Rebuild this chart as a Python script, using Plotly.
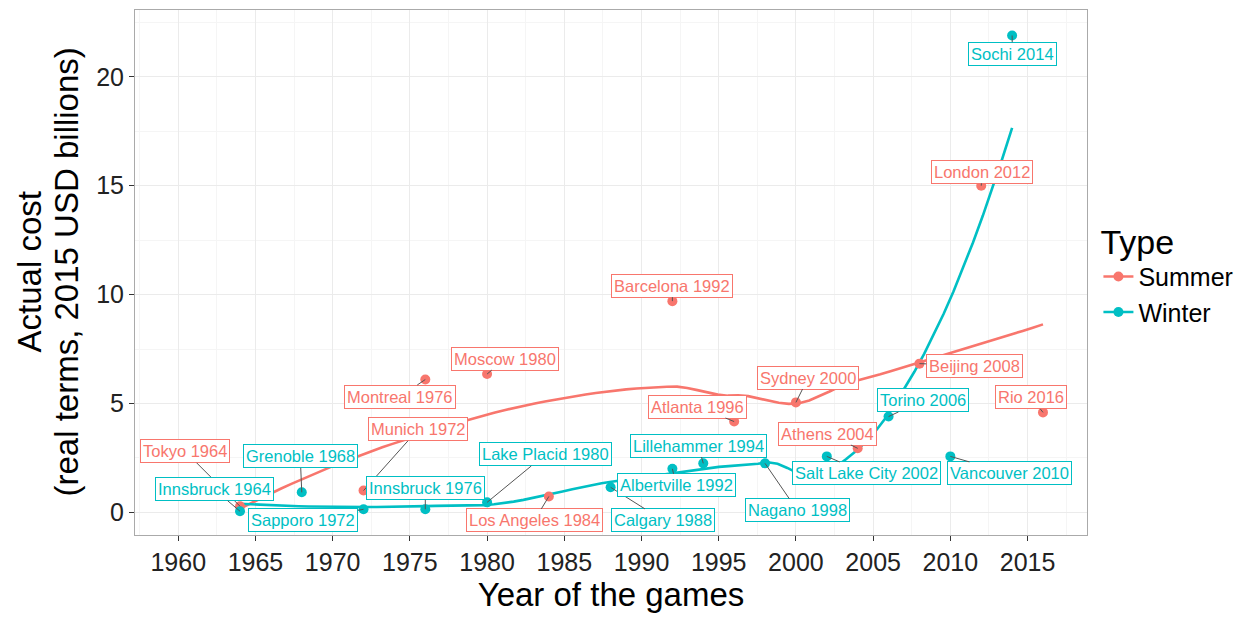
import numpy as np
import plotly.graph_objects as go

# ---------------- data ----------------
summer_games = ["Tokyo 1964", "Munich 1972", "Montreal 1976", "Moscow 1980",
                "Los Angeles 1984", "Barcelona 1992", "Atlanta 1996", "Sydney 2000",
                "Athens 2004", "Beijing 2008", "London 2012", "Rio 2016"]
summer_years = [1964, 1972, 1976, 1980, 1984, 1992, 1996, 2000, 2004, 2008, 2012, 2016]
summer_cost = [0.28, 1.0, 6.1, 6.35, 0.73, 9.7, 4.17, 5.05, 2.94, 6.83, 15.0, 4.59]

winter_games = ["Innsbruck 1964", "Grenoble 1968", "Sapporo 1972", "Innsbruck 1976",
                "Lake Placid 1980", "Calgary 1988", "Albertville 1992", "Lillehammer 1994",
                "Nagano 1998", "Salt Lake City 2002", "Torino 2006", "Vancouver 2010",
                "Sochi 2014"]
winter_years = [1964, 1968, 1972, 1976, 1980, 1988, 1992, 1994, 1998, 2002, 2006, 2010, 2014]
winter_cost = [0.05, 0.92, 0.14, 0.14, 0.46, 1.15, 2.0, 2.25, 2.25, 2.57, 4.4, 2.57, 21.9]

x_ticks = [1960, 1965, 1970, 1975, 1980, 1985, 1990, 1995, 2000, 2005, 2010, 2015]
y_ticks = [0, 5, 10, 15, 20]

y_title_lines = ["Actual cost", "(real terms, 2015 USD billions)"]
x_title = "Year of the games"

# label box centres (layout, data coordinates)
label_pos = {
    "Tokyo 1964": (1960.45, 2.80), "Munich 1972": (1975.54, 3.81),
    "Montreal 1976": (1974.38, 5.32), "Moscow 1980": (1981.18, 7.06),
    "Los Angeles 1984": (1983.06, -0.37), "Barcelona 1992": (1992.0, 10.41),
    "Atlanta 1996": (1993.61, 4.86), "Sydney 2000": (2000.8, 6.19),
    "Athens 2004": (2002.03, 3.62), "Beijing 2008": (2011.55, 6.74),
    "London 2012": (2012.07, 15.64), "Rio 2016": (2015.25, 5.28),
    "Innsbruck 1964": (1962.33, 1.06), "Grenoble 1968": (1967.9, 2.57),
    "Sapporo 1972": (1968.1, -0.37), "Innsbruck 1976": (1976.0, 1.10),
    "Lake Placid 1980": (1983.77, 2.66), "Calgary 1988": (1991.41, -0.37),
    "Albertville 1992": (1992.25, 1.24), "Lillehammer 1994": (1993.68, 3.07),
    "Nagano 1998": (2000.09, 0.09), "Salt Lake City 2002": (2004.56, 1.79),
    "Torino 2006": (2008.25, 5.14), "Vancouver 2010": (2013.82, 1.79),
    "Sochi 2014": (2014.02, 21.06),
}

RED = "#F8766D"
TEAL = "#00BFC4"
FONT = "Liberation Sans, Arial, sans-serif"


# ---------- loess smoother (as geom_smooth: span .75, degree 2, kd-tree interpolation) ----------
def _local_fit(x, y, x0, q):
    d = np.abs(x - x0)
    h = np.sort(d)[q - 1]
    u = np.clip(d / h, 0, 1)
    w = (1 - u ** 3) ** 3
    X = np.vstack([np.ones(len(x)), x - x0, (x - x0) ** 2]).T
    sw = np.sqrt(w)
    beta = np.linalg.lstsq(X * sw[:, None], y * sw, rcond=None)[0]
    return beta[0], beta[1]


def loess(x, y, xs, span=0.75, cell=0.2):
    order = np.argsort(x)
    x = np.asarray(x, float)[order]
    y = np.asarray(y, float)[order]
    n = len(x)
    q = int(np.floor(n * span + 1e-5))
    fc = int(np.floor(n * span * cell))
    lo, hi = x.min(), x.max()
    mu = 0.005 * (hi - lo)
    verts = [lo - mu, hi + mu]

    def rec(l, u, vlo, vhi):
        if u - l + 1 <= fc:
            return
        m = (l + u) // 2
        s = x[m - 1]
        if s == vlo or s == vhi:
            return
        verts.append(s)
        rec(l, m, vlo, s)
        rec(m + 1, u, s, vhi)

    rec(1, n, verts[0], verts[1])
    verts = np.array(sorted(set(verts)))
    vals = np.array([_local_fit(x, y, v, q) for v in verts])
    out = []
    for t in xs:
        i = min(max(np.searchsorted(verts, t) - 1, 0), len(verts) - 2)
        x0, x1 = verts[i], verts[i + 1]
        hgt = x1 - x0
        s = (t - x0) / hgt
        h00 = 2 * s ** 3 - 3 * s ** 2 + 1
        h10 = s ** 3 - 2 * s ** 2 + s
        h01 = -2 * s ** 3 + 3 * s ** 2
        h11 = s ** 3 - s ** 2
        out.append(h00 * vals[i, 0] + h10 * hgt * vals[i, 1]
                   + h01 * vals[i + 1, 0] + h11 * hgt * vals[i + 1, 1])
    return np.array(out)


fig = go.Figure()

series = [("Summer", summer_games, summer_years, summer_cost, RED),
          ("Winter", winter_games, winter_years, winter_cost, TEAL)]

for name, games, yrs, cost, col in series:
    xs = np.linspace(min(yrs), max(yrs), 80)
    fig.add_trace(go.Scatter(x=xs, y=loess(yrs, cost, xs), mode="lines",
                             line=dict(color=col, width=2.6), showlegend=False,
                             hoverinfo="skip"))

for name, games, yrs, cost, col in series:
    fig.add_trace(go.Scatter(x=yrs, y=cost, mode="markers", text=games,
                             marker=dict(color=col, size=10), showlegend=False))
    fig.add_trace(go.Scatter(x=[None], y=[None], mode="lines+markers", name=name,
                             marker=dict(color=col, size=10),
                             line=dict(color=col, width=2.6)))

annotations = []
for name, games, yrs, cost, col in series:
    for g, xv, yv in zip(games, yrs, cost):
        lx, ly = label_pos[g]
        annotations.append(dict(
            x=xv, y=yv, xref="x", yref="y", ax=lx, ay=ly, axref="x", ayref="y",
            text=g, showarrow=True, arrowhead=0, arrowwidth=1, arrowcolor="#555555",
            font=dict(family=FONT, size=16.5, color=col),
            bgcolor="white", bordercolor=col, borderwidth=1, borderpad=2))

# two-line y-axis title
for line, shift in zip(y_title_lines, [-106, -69]):
    annotations.append(dict(
        text=line, xref="paper", yref="paper", x=0, y=0.5, xshift=shift,
        xanchor="center", yanchor="middle", showarrow=False, textangle=-90,
        font=dict(family=FONT, size=33, color="black")))

fig.update_layout(
    width=1247, height=617,
    margin=dict(l=127, r=168, t=2, b=90),
    paper_bgcolor="white", plot_bgcolor="white",
    font=dict(family=FONT, color="black"),
    annotations=annotations,
    legend=dict(
        title=dict(text="Type", font=dict(size=34, family=FONT)),
        font=dict(size=25, family=FONT),
        x=1.012, y=0.5, xanchor="left", yanchor="middle",
        itemwidth=30, tracegroupgap=0,
    ),
    xaxis=dict(
        range=[1957.2, 2018.85], tickvals=x_ticks, ticks="outside", ticklen=5,
        tickcolor="#333333", tickfont=dict(size=25, color="#222222"),
        showgrid=True, gridcolor="#EBEBEB", gridwidth=1.2,
        minor=dict(dtick=5, tick0=1957.5, showgrid=True, gridcolor="#F5F5F5", gridwidth=1),
        showline=True, mirror=True, linecolor="#AAAAAA", linewidth=1,
        zeroline=False, automargin=False,
        title=dict(text=x_title, font=dict(size=33), standoff=4),
    ),
    yaxis=dict(
        range=[-1.04, 23.07], tickvals=y_ticks, ticks="outside", ticklen=5,
        ticksuffix="\u00a0\u2009",
        tickcolor="#333333", tickfont=dict(size=25, color="#222222"),
        showgrid=True, gridcolor="#EBEBEB", gridwidth=1.2,
        minor=dict(dtick=5, tick0=2.5, showgrid=True, gridcolor="#F5F5F5", gridwidth=1),
        showline=True, mirror=True, linecolor="#AAAAAA", linewidth=1,
        zeroline=False, automargin=False,
    ),
)

fig.write_html("out.html")
